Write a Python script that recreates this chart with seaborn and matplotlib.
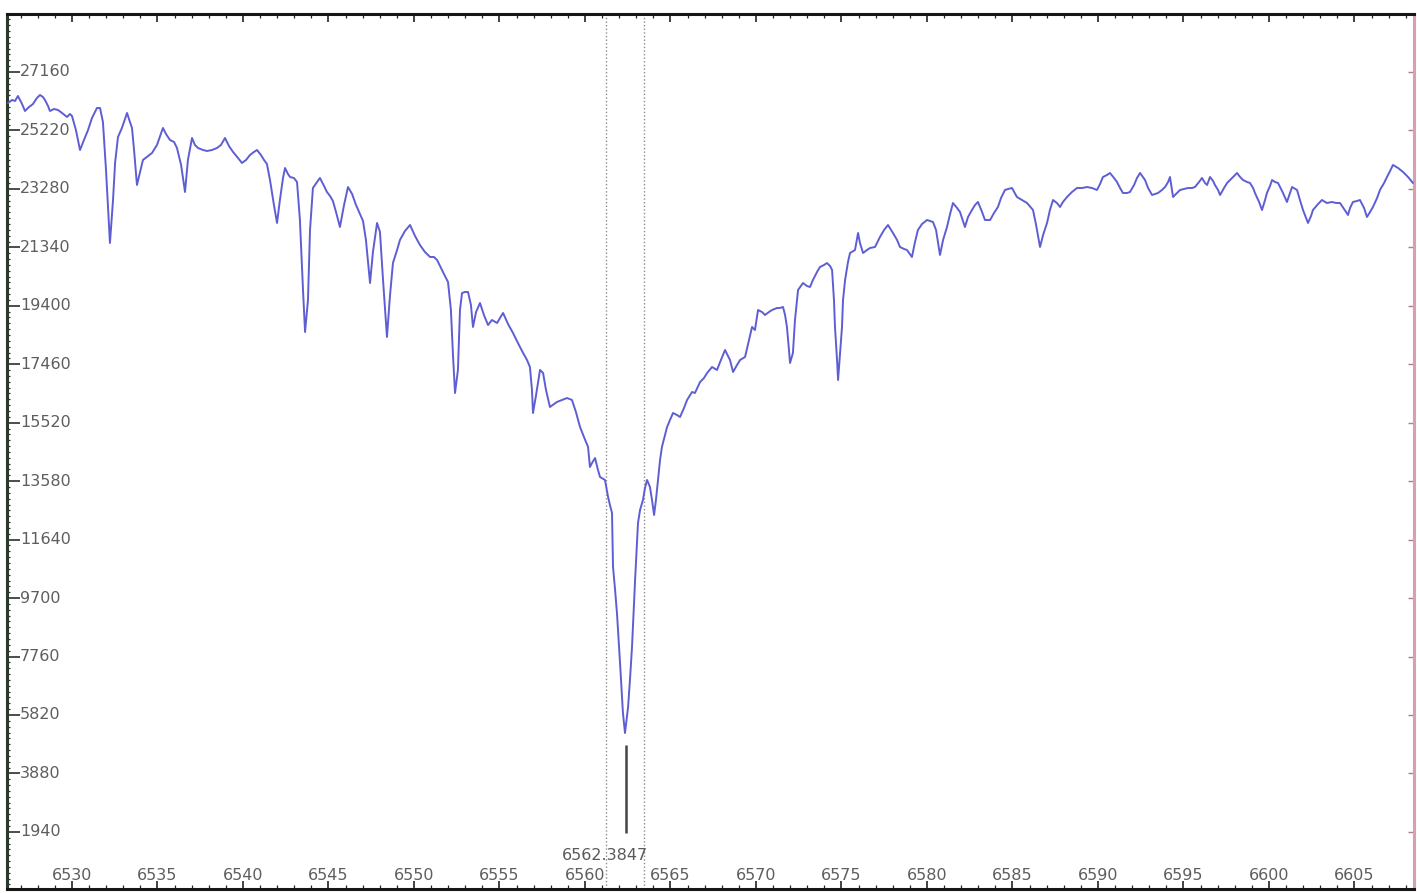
import numpy as np
import pandas as pd
import matplotlib
matplotlib.use("Agg")
import matplotlib.pyplot as plt
from matplotlib.ticker import FixedLocator, MultipleLocator
import seaborn as sns

# Blue wing of the spectrum (Angstrom, counts)
blue_wl = [6526.26, 6526.49, 6526.67, 6526.84, 6527.08, 6527.25, 6527.49, 6527.72, 6527.95, 6528.13,
           6528.30, 6528.42, 6528.60, 6528.71, 6528.95, 6529.18, 6529.42, 6529.71, 6529.88, 6530.00,
           6530.23, 6530.47, 6530.70, 6530.94, 6531.17, 6531.46, 6531.64, 6531.81, 6531.99, 6532.22,
           6532.40, 6532.52, 6532.69, 6532.92, 6533.22, 6533.39, 6533.51, 6533.63, 6533.80, 6533.98,
           6534.15, 6534.45, 6534.68, 6534.97, 6535.32, 6535.50, 6535.73, 6535.97, 6536.14, 6536.38,
           6536.61, 6536.78, 6537.02, 6537.19, 6537.37, 6537.66, 6537.90, 6538.19, 6538.48, 6538.71,
           6538.95, 6539.18, 6539.42, 6539.71, 6539.94, 6540.18, 6540.41, 6540.64, 6540.82, 6541.05,
           6541.23, 6541.40, 6541.58, 6541.81, 6541.99, 6542.16, 6542.34, 6542.46, 6542.63, 6542.75,
           6542.98, 6543.16, 6543.33, 6543.51, 6543.63, 6543.80, 6543.92, 6544.09, 6544.33, 6544.50,
           6544.74, 6544.91, 6545.09, 6545.26, 6545.44, 6545.67, 6545.91, 6546.14, 6546.38, 6546.61,
           6546.84, 6547.02, 6547.19, 6547.43, 6547.60, 6547.84, 6548.01, 6548.19, 6548.42, 6548.60,
           6548.77, 6549.01, 6549.18, 6549.47, 6549.77, 6550.06, 6550.35, 6550.64, 6550.94, 6551.17,
           6551.35, 6551.58, 6551.81, 6551.99, 6552.16, 6552.28, 6552.40, 6552.57, 6552.69, 6552.81,
           6552.98, 6553.16, 6553.33, 6553.45, 6553.63, 6553.86, 6554.09, 6554.33, 6554.56, 6554.86,
           6555.03, 6555.21, 6555.50, 6555.79, 6556.08, 6556.38, 6556.61, 6556.78, 6556.90, 6556.96,
           6557.14, 6557.37, 6557.55, 6557.72, 6557.95, 6558.19, 6558.36, 6558.66, 6558.95, 6559.24,
           6559.47, 6559.71, 6559.94, 6560.18, 6560.29, 6560.41, 6560.59, 6560.76, 6560.88, 6561.17]
blue_flux = [26131, 26231, 26198, 26364, 26098, 25866, 25999, 26098, 26297, 26397,
             26331, 26231, 26032, 25866, 25932, 25899, 25800, 25667, 25766, 25700,
             25235, 24571, 24903, 25235, 25634, 25965, 25965, 25501, 23908, 21485,
             22912, 24140, 25003, 25302, 25800, 25501, 25302, 24571, 23410, 23841,
             24240, 24372, 24472, 24737, 25302, 25103, 24903, 24837, 24638, 24074,
             23178, 24240, 24970, 24737, 24638, 24571, 24538, 24571, 24638, 24737,
             24970, 24704, 24505, 24306, 24140, 24240, 24406, 24505, 24571, 24406,
             24240, 24107, 23576, 22746, 22149, 22912, 23642, 23974, 23775, 23675,
             23642, 23509, 22248, 19925, 18531, 19593, 21916, 23310, 23509, 23642,
             23377, 23178, 23045, 22879, 22514, 22016, 22746, 23343, 23111, 22746,
             22447, 22215, 21584, 20157, 21186, 22149, 21850, 20257, 18365, 19759,
             20821, 21252, 21584, 21883, 22082, 21717, 21418, 21186, 21020, 21020,
             20921, 20655, 20390, 20190, 19261, 17768, 16506, 17270, 19261, 19825,
             19859, 19859, 19427, 18697, 19195, 19493, 19095, 18763, 18929, 18830,
             18996, 19162, 18796, 18498, 18166, 17834, 17602, 17369, 16606, 15843,
             16440, 17270, 17170, 16606, 16042, 16141, 16208, 16274, 16340, 16274,
             15876, 15378, 15046, 14714, 14050, 14183, 14349, 13951, 13718, 13619]

# H-alpha line core
core_wl = [6561.35, 6561.46, 6561.58, 6561.64, 6561.76, 6561.87, 6562.05, 6562.22, 6562.34, 6562.52,
           6562.63, 6562.75, 6562.93, 6563.10, 6563.22, 6563.39, 6563.51, 6563.63, 6563.80, 6563.92,
           6564.04, 6564.15, 6564.27, 6564.39]
core_flux = [13055, 12789, 12524, 10731, 9968, 9205, 7545, 5886, 5222, 6085,
             6981, 8076, 10300, 12192, 12623, 12955, 13353, 13619, 13386, 12955,
             12457, 12955, 13619, 14283]

# Red wing of the spectrum
red_wl = [6564.50, 6564.68, 6564.80, 6564.97, 6565.15, 6565.38, 6565.56, 6565.79, 6565.97, 6566.26,
          6566.43, 6566.73, 6566.96, 6567.14, 6567.43, 6567.72, 6567.95, 6568.19, 6568.48, 6568.66,
          6568.89, 6569.07, 6569.36, 6569.59, 6569.77, 6569.94, 6570.12, 6570.35, 6570.53, 6570.76,
          6570.94, 6571.23, 6571.40, 6571.58, 6571.70, 6571.81, 6571.93, 6571.99, 6572.16, 6572.28,
          6572.46, 6572.75, 6572.98, 6573.16, 6573.33, 6573.57, 6573.74, 6573.98, 6574.15, 6574.33,
          6574.45, 6574.56, 6574.62, 6574.74, 6574.80, 6574.91, 6575.03, 6575.09, 6575.21, 6575.38,
          6575.50, 6575.79, 6575.97, 6576.08, 6576.26, 6576.49, 6576.67, 6576.96, 6577.25, 6577.49,
          6577.72, 6578.01, 6578.25, 6578.42, 6578.66, 6578.83, 6579.12, 6579.30, 6579.47, 6579.71,
          6580.00, 6580.35, 6580.53, 6580.76, 6580.94, 6581.17, 6581.35, 6581.52, 6581.76, 6581.93,
          6582.22, 6582.40, 6582.63, 6582.81, 6582.98, 6583.22, 6583.39, 6583.69, 6583.92, 6584.15,
          6584.33, 6584.56, 6584.74, 6584.97, 6585.26, 6585.56, 6585.85, 6586.20, 6586.38, 6586.61,
          6586.79, 6587.02, 6587.19, 6587.37, 6587.60, 6587.78, 6587.95, 6588.19, 6588.48, 6588.77,
          6589.07, 6589.36, 6589.65, 6589.94, 6590.12, 6590.29, 6590.53, 6590.70, 6590.94, 6591.11,
          6591.29, 6591.46, 6591.70, 6591.87, 6592.11, 6592.28, 6592.46, 6592.75, 6592.93, 6593.16,
          6593.33, 6593.51, 6593.74, 6593.92, 6594.10, 6594.21, 6594.39, 6594.56, 6594.80, 6595.03,
          6595.26, 6595.50, 6595.67, 6595.91, 6596.08, 6596.26, 6596.38, 6596.55, 6596.73, 6596.84,
          6597.02, 6597.14, 6597.37, 6597.55, 6597.84, 6598.13, 6598.31, 6598.48, 6598.72, 6598.89,
          6599.07, 6599.18, 6599.42, 6599.59, 6599.77, 6599.88, 6600.06, 6600.18, 6600.35, 6600.53,
          6600.82, 6601.05, 6601.23, 6601.35, 6601.64, 6601.81, 6601.99, 6602.17, 6602.28, 6602.46,
          6602.57, 6602.87, 6603.10, 6603.28, 6603.39, 6603.69, 6603.92, 6604.15, 6604.39, 6604.62,
          6604.74, 6604.91, 6605.15, 6605.32, 6605.56, 6605.73, 6605.91, 6606.08, 6606.32, 6606.49,
          6606.73, 6606.90, 6607.08, 6607.25, 6607.55, 6607.84, 6608.13, 6608.42]
red_flux = [14714, 15112, 15378, 15610, 15843, 15776, 15710, 16008, 16274, 16540,
            16506, 16871, 17004, 17170, 17369, 17270, 17602, 17933, 17602, 17203,
            17436, 17602, 17701, 18265, 18697, 18597, 19261, 19195, 19095, 19195,
            19261, 19327, 19327, 19361, 19095, 18697, 17933, 17502, 17834, 18929,
            19925, 20157, 20058, 20024, 20257, 20522, 20688, 20755, 20821, 20721,
            20589, 19593, 18697, 17602, 16938, 17768, 18697, 19593, 20257, 20854,
            21153, 21252, 21817, 21485, 21153, 21252, 21319, 21352, 21684, 21916,
            22082, 21817, 21584, 21352, 21286, 21252, 21020, 21518, 21916, 22115,
            22248, 22182, 21916, 21087, 21584, 22016, 22447, 22812, 22646, 22514,
            22016, 22348, 22580, 22746, 22846, 22514, 22248, 22248, 22481, 22680,
            22978, 23244, 23277, 23310, 23012, 22912, 22812, 22580, 22082, 21352,
            21750, 22149, 22580, 22912, 22812, 22680, 22846, 23012, 23178, 23310,
            23310, 23343, 23310, 23244, 23443, 23675, 23742, 23808, 23642, 23509,
            23310, 23144, 23144, 23178, 23410, 23642, 23808, 23576, 23310, 23078,
            23111, 23144, 23244, 23343, 23509, 23675, 23012, 23111, 23244, 23277,
            23310, 23310, 23343, 23509, 23642, 23476, 23410, 23675, 23543, 23410,
            23244, 23078, 23310, 23476, 23642, 23808, 23675, 23576, 23509, 23476,
            23310, 23144, 22846, 22580, 22912, 23144, 23377, 23576, 23509, 23476,
            23144, 22846, 23144, 23343, 23244, 22912, 22580, 22315, 22149, 22381,
            22580, 22779, 22912, 22846, 22812, 22846, 22812, 22812, 22613, 22414,
            22646, 22846, 22879, 22912, 22646, 22348, 22514, 22680, 22978, 23244,
            23476, 23675, 23874, 24074, 23974, 23841, 23675, 23476]

# Axis ticks
x_ticks = [6530, 6535, 6540, 6545, 6550, 6555, 6560, 6565, 6570, 6575,
           6580, 6585, 6590, 6595, 6600, 6605]
y_ticks = [1940, 3880, 5820, 7760, 9700, 11640, 13580, 15520, 17460, 19400,
           21340, 23280, 25220, 27160]

# Measured line centre, its measuring window and the marker extent
line_center = 6562.3847
window = (6561.23, 6563.45)
marker_flux = (1900, 4820)
label_flux = 1170

x_range = (6526.20, 6608.48)
y_range = (44, 29085)

sns.set_style("white")
plt.rcParams["font.family"] = ["DejaVu Sans"]

W, H = 1417, 893
fig = plt.figure(figsize=(W / 100, H / 100), dpi=100)
fig.patch.set_facecolor("white")
ax = fig.add_axes([7 / W, 4 / H, 1407 / W, 875 / H])
ax.set_facecolor("white")

spec = pd.DataFrame({
    "wavelength": np.concatenate([blue_wl, core_wl, red_wl]),
    "flux": np.concatenate([blue_flux, core_flux, red_flux]),
})
sns.lineplot(data=spec, x="wavelength", y="flux", ax=ax, color="#5e5ed4",
             linewidth=1.4, estimator=None, sort=False, zorder=3)

# measuring window and line marker
for edge in window:
    ax.axvline(edge, color="#8c8c8c", linestyle=(0, (1, 1.6)), linewidth=1.0, zorder=2)
ax.vlines(line_center, marker_flux[0], marker_flux[1], color="#454545", linewidth=1.8, zorder=4)
ax.annotate(f"{line_center:.4f}", xy=(window[1], label_flux), xytext=(3, 0),
            textcoords="offset points", ha="right", va="center",
            fontsize=11.5, color="#5a5a5a", zorder=5)

ax.set_xlim(*x_range)
ax.set_ylim(*y_range)
ax.set_xlabel("")
ax.set_ylabel("")

ax.xaxis.set_major_locator(FixedLocator(x_ticks))
ax.xaxis.set_minor_locator(MultipleLocator(1))
ax.yaxis.set_major_locator(FixedLocator(y_ticks))
ax.yaxis.set_minor_locator(MultipleLocator(194))
ax.set_xticklabels([str(t) for t in x_ticks])
ax.set_yticklabels([str(t) for t in y_ticks])

ax.tick_params(axis="x", which="both", direction="in", top=True, bottom=True,
               color="#222222", labelcolor="#5e5e5e")
ax.tick_params(axis="x", which="major", length=6, width=1.2, pad=-10, labelsize=11.5)
ax.tick_params(axis="x", which="minor", length=3, width=0.9)
ax.tick_params(axis="y", which="both", direction="in", color="#263226", labelcolor="#5e5e5e")
ax.tick_params(axis="y", which="major", left=True, right=False, length=9, width=1.2,
               pad=-9.5, labelsize=11.5)
ax.tick_params(axis="y", which="minor", left=True, right=False, length=2.5, width=0.9)

for lab in ax.get_xticklabels():
    lab.set_verticalalignment("center")
for lab in ax.get_yticklabels():
    lab.set_horizontalalignment("left")
    lab.set_verticalalignment("center")

# short marks on the right-hand frame
sec = ax.secondary_yaxis("right")
sec.yaxis.set_major_locator(FixedLocator(y_ticks))
sec.tick_params(axis="y", direction="in", length=4, width=1.0, color="#b07a90",
                labelright=False)
sec.spines["right"].set_color("#d6a0b4")
sec.spines["right"].set_linewidth(2.2)

for side in ("top", "bottom"):
    ax.spines[side].set_visible(True)
    ax.spines[side].set_color("#161616")
    ax.spines[side].set_linewidth(2.2)
ax.spines["left"].set_visible(True)
ax.spines["left"].set_color("#2c382c")
ax.spines["left"].set_linewidth(2.2)
ax.spines["right"].set_visible(True)
ax.spines["right"].set_color("#d6a0b4")
ax.spines["right"].set_linewidth(2.2)

fig.savefig("out.png", dpi=100, facecolor="white")
